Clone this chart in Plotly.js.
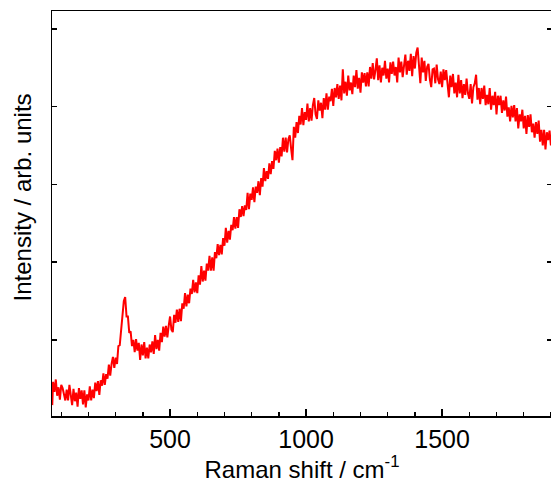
<!DOCTYPE html>
<html>
<head>
<meta charset="utf-8">
<script src="https://cdn.plot.ly/plotly-3.0.1.min.js"></script>
<style>
html,body{margin:0;padding:0;overflow:hidden;background:#fff;}
#chart{width:552px;height:486px;}
</style>
</head>
<body>
<div id="chart"></div>
<script>
// Raman shift (cm^-1)
const ramanShift = [67,
70,75,80,85,90,95,100,105,110,115,120,125,130,135,140,145,150,155,160,165,
170,175,180,185,190,195,200,205,210,215,220,225,230,235,240,245,250,255,260,265,
270,275,280,285,290,295,300,305,310,315,320,325,330,335,340,345,350,355,360,365,
370,375,380,385,390,395,400,405,410,415,420,425,430,435,440,445,450,455,460,465,
470,475,480,485,490,495,500,505,510,515,520,525,530,535,540,545,550,555,560,565,
570,575,580,585,590,595,600,605,610,615,620,625,630,635,640,645,650,655,660,665,
670,675,680,685,690,695,700,705,710,715,720,725,730,735,740,745,750,755,760,765,
770,775,780,785,790,795,800,805,810,815,820,825,830,835,840,845,850,855,860,865,
870,875,880,885,890,895,900,905,910,915,920,925,930,935,940,945,950,955,960,965,
970,975,980,985,990,995,1000,1005,1010,1015,1020,1025,1030,1035,1040,1045,1050,1055,1060,1065,
1070,1075,1080,1085,1090,1095,1100,1105,1110,1115,1120,1125,1130,1135,1140,1145,1150,1155,1160,1165,
1170,1175,1180,1185,1190,1195,1200,1205,1210,1215,1220,1225,1230,1235,1240,1245,1250,1255,1260,1265,
1270,1275,1280,1285,1290,1295,1300,1305,1310,1315,1320,1325,1330,1335,1340,1345,1350,1355,1360,1365,
1370,1375,1380,1385,1390,1395,1400,1405,1410,1415,1420,1425,1430,1435,1440,1445,1450,1455,1460,1465,
1470,1475,1480,1485,1490,1495,1500,1505,1510,1515,1520,1525,1530,1535,1540,1545,1550,1555,1560,1565,
1570,1575,1580,1585,1590,1595,1600,1605,1610,1615,1620,1625,1630,1635,1640,1645,1650,1655,1660,1665,
1670,1675,1680,1685,1690,1695,1700,1705,1710,1715,1720,1725,1730,1735,1740,1745,1750,1755,1760,1765,
1770,1775,1780,1785,1790,1795,1800,1805,1810,1815,1820,1825,1830,1835,1840,1845,1850,1855,1860,1865,
1870,1875,1880,1885,1890,1895,1900
];
const intensity = [0.16,
0.46,0.33,0.49,0.28,0.39,0.23,0.42,0.38,0.29,0.22,0.36,0.22,0.42,0.26,0.16,0.37,0.21,0.32,0.14,0.38,
0.24,0.35,0.17,0.35,0.13,0.30,0.22,0.40,0.22,0.36,0.25,0.45,0.34,0.47,0.29,0.48,0.41,0.57,0.42,0.56,
0.50,0.68,0.54,0.69,0.78,0.64,0.77,0.69,0.92,0.93,1.12,1.22,1.50,1.55,1.30,1.30,1.09,1.11,0.92,1.00,
0.84,1.01,0.86,0.96,0.74,0.94,0.80,0.97,0.76,0.90,0.76,0.94,0.84,0.98,0.82,1.06,0.88,1.00,0.86,1.09,
0.97,1.17,1.04,1.18,1.03,1.18,1.30,1.13,1.10,1.32,1.22,1.39,1.23,1.40,1.24,1.47,1.40,1.60,1.43,1.58,
1.47,1.66,1.59,1.77,1.61,1.74,1.60,1.83,1.71,1.95,1.75,1.89,1.76,1.98,1.89,2.08,1.89,2.06,1.89,2.13,
2.05,2.23,2.09,2.22,2.10,2.31,2.21,2.44,2.25,2.40,2.29,2.48,2.41,2.58,2.43,2.58,2.44,2.68,2.58,2.72,
2.59,2.73,2.67,2.89,2.68,2.88,2.80,2.96,2.77,2.97,2.89,3.04,2.86,3.08,2.97,3.21,3.04,3.17,3.07,3.27,
3.13,3.30,3.20,3.43,3.31,3.46,3.28,3.48,3.36,3.60,3.42,3.60,3.41,3.58,3.63,3.46,3.31,3.74,3.60,3.80,
3.66,3.88,3.77,3.98,3.76,3.93,3.83,4.04,3.81,3.98,3.82,4.02,4.11,3.90,3.84,4.08,3.95,4.05,3.85,4.11,
3.96,4.17,3.96,4.13,4.07,4.23,4.01,4.24,4.12,4.29,4.10,4.27,4.08,4.48,4.17,4.32,4.14,4.40,4.21,4.31,
4.16,4.40,4.25,4.47,4.23,4.37,4.18,4.44,4.31,4.43,4.26,4.44,4.26,4.51,4.36,4.56,4.35,4.47,4.62,4.34,
4.53,4.31,4.50,4.40,4.59,4.36,4.49,4.31,4.57,4.42,4.58,4.40,4.51,4.31,4.63,4.44,4.58,4.38,4.56,4.67,
4.41,4.59,4.46,4.68,4.39,4.65,4.49,4.69,4.76,4.46,4.30,4.63,4.44,4.59,4.33,4.51,4.55,4.35,4.25,4.48,
4.49,4.30,4.54,4.35,4.29,4.45,4.25,4.48,4.34,4.47,4.25,4.12,4.40,4.25,4.42,4.17,4.31,4.12,4.41,4.17,
4.34,4.11,4.29,4.15,4.36,4.17,4.10,4.29,4.04,4.25,4.30,4.41,4.09,4.24,4.03,4.24,4.10,4.27,4.02,4.15,
4.03,4.24,3.96,4.14,4.02,4.19,3.90,4.14,4.02,4.14,3.92,4.08,3.95,4.13,3.87,3.99,3.81,4.01,3.86,4.02,
3.81,3.98,3.72,3.90,3.81,3.96,3.72,3.88,3.65,3.89,3.74,3.90,3.67,3.78,3.60,3.80,3.65,3.82,3.55,3.70,
3.50,3.70,3.45,3.67,3.57,3.69,3.50
];
const xTicks = [500, 1000, 1500];
const xTickText = ['500', '1000', '1500'];
const yTicks = [1, 2, 3, 4, 5];

const trace = {
  x: ramanShift,
  y: intensity,
  type: 'scatter',
  mode: 'lines',
  line: {color: '#ff0000', width: 2},
  hoverinfo: 'x+y'
};

const layout = {
  width: 552,
  height: 486,
  margin: {l: 52, r: 0, t: 11, b: 70, pad: 0},
  paper_bgcolor: '#ffffff',
  plot_bgcolor: '#ffffff',
  showlegend: false,
  font: {family: '"Liberation Sans", Arial, sans-serif', color: '#000000'},
  xaxis: {
    range: [66, 1904],
    tickmode: 'array',
    tickvals: xTicks,
    ticktext: xTickText,
    ticks: 'inside',
    ticklen: 7,
    tickwidth: 1.5,
    tickcolor: '#000',
    tickfont: {size: 25, color: '#000'},
    minor: {dtick: 100, ticks: 'inside', ticklen: 4, tickwidth: 1.5, tickcolor: '#000', showgrid: false},
    showline: true,
    linecolor: '#000',
    linewidth: 1.5,
    mirror: true,
    showgrid: false,
    zeroline: false,
    title: {text: 'Raman shift / cm<sup>-1</sup>', font: {size: 24, color: '#000'}, standoff: 6}
  },
  yaxis: {
    range: [0.02, 5.23],
    tickmode: 'array',
    tickvals: yTicks,
    showticklabels: false,
    ticks: 'inside',
    ticklen: 5,
    tickwidth: 1.5,
    tickcolor: '#000',
    showline: true,
    linecolor: '#000',
    linewidth: 1.5,
    mirror: 'ticks',
    showgrid: false,
    zeroline: false
  },
  annotations: [{
    text: 'Intensity / arb. units',
    textangle: -90,
    xref: 'paper', yref: 'paper',
    x: -0.058, y: 0.5395,
    xanchor: 'center', yanchor: 'middle',
    showarrow: false,
    font: {size: 24, color: '#000', family: '"Liberation Sans", Arial, sans-serif'}
  }]
};

Plotly.newPlot('chart', [trace], layout, {staticPlot: true, displayModeBar: false});
</script>
</body>
</html>
